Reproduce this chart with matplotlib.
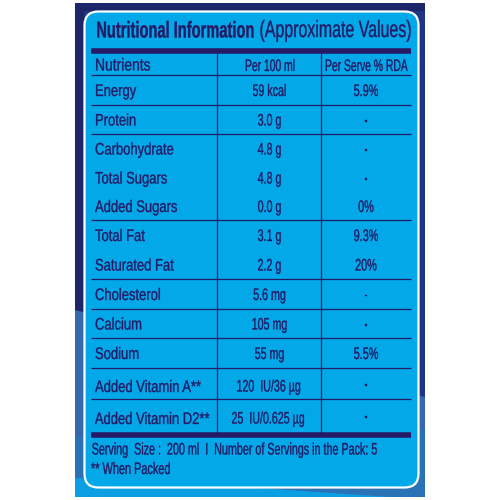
from matplotlib import pyplot as plt
from matplotlib.patches import FancyBboxPatch, Polygon, Rectangle
from matplotlib.patheffects import AbstractPathEffect
from matplotlib.text import Text
from matplotlib.transforms import Affine2D, Bbox

nutrients = ["Energy", "Protein", "Carbohydrate", "Total Sugars", "Added Sugars", "Total Fat",
             "Saturated Fat", "Cholesterol", "Calcium", "Sodium", "Added Vitamin A**", "Added Vitamin D2**"]
per_100ml = ["59 kcal", "3.0 g", "4.8 g", "4.8 g", "0.0 g", "3.1 g", "2.2 g", "5.6 mg", "105 mg", "55 mg",
             "120  IU/36 µg", "25  IU/0.625 µg"]
per_serve = ["5.9%", "-", "-", "-", "0%", "9.3%", "20%", "-", "-", "5.5%", "-", "-"]
headers = ["Nutrients", "Per 100 ml", "Per Serve % RDA"]
title_bold = "Nutritional Information"
title_plain = "(Approximate Values)"
footer = ["Serving  Size :  200 ml  I  Number of Servings in the Pack: 5", "** When Packed"]

navy = "#241a66"
panel_blue = "#03a8e8"
plt.rcParams['font.family'] = ['Liberation Sans', 'DejaVu Sans']


# the packet uses a condensed face, so squeeze the glyphs sideways around the anchor
class Squeeze(AbstractPathEffect):
    def __init__(self, x0, sx):
        super().__init__()
        self.x0, self.sx = x0, sx

    def draw_path(self, renderer, gc, tpath, affine, rgbFace=None):
        squeeze = Affine2D().translate(-self.x0, 0).scale(self.sx, 1).translate(self.x0, 0)
        gc0 = renderer.new_gc()
        gc0.copy_properties(gc)
        gc0.set_linewidth(0.25)
        gc0.set_foreground(navy)
        renderer.draw_path(gc0, tpath, affine + squeeze, rgbFace)
        gc0.restore()


class NarrowText(Text):
    def __init__(self, x, y, s, sx, **kw):
        super().__init__(x, y, s, **kw)
        self.sx = sx
        self.set_path_effects([Squeeze(x, sx)])

    def get_window_extent(self, renderer=None, dpi=None):
        bb = super().get_window_extent(renderer, dpi)
        x0 = self.get_transform().transform(self.get_position())[0]
        return Bbox([[x0 + (bb.x0 - x0) * self.sx, bb.y0], [x0 + (bb.x1 - x0) * self.sx, bb.y1]])


def put(x, y, s, sx, size=12, ha="left", weight="normal"):
    ax.add_artist(NarrowText(x, y, s, sx, fontsize=size, ha=ha, va="center", color=navy,
                             fontweight=weight, zorder=6))


fig = plt.figure(figsize=(5, 5), dpi=100)
ax = fig.add_axes([0, 0, 1, 1])
ax.set_xlim(0, 500)
ax.set_ylim(500, 0)
ax.axis("off")

# packet behind the panel
ax.add_patch(Rectangle((75, 3), 350, 494, color="#1f3583", lw=0, zorder=1))
ax.add_patch(Rectangle((75, 3), 350, 8, color="#1e2468", lw=0, zorder=1))
ax.add_patch(Rectangle((75, 3), 9, 310, color="#1e2468", lw=0, zorder=1))
ax.add_patch(Polygon([(75, 310), (425, 397), (425, 497), (75, 497)], color="#3568ad", lw=0, zorder=2))
ax.add_patch(Polygon([(75, 437), (425, 430), (425, 497), (75, 497)], color="#2a72b6", lw=0, zorder=2))
ax.add_patch(Polygon([(75, 478), (200, 484), (390, 497), (75, 497)], color="#0a9fe2", lw=0, zorder=3))

ax.add_patch(FancyBboxPatch((96, 23), 311, 453, boxstyle="round,pad=11.5,rounding_size=14",
                            fc=panel_blue, ec="white", lw=1.6, zorder=4))

put(253.5, 31, title_bold, 0.64, size=16.5, ha="right", weight="bold")
put(259.5, 31, title_plain, 0.675, size=17)

# row boundaries of the table, in pixels
row_edges = [53, 75, 105, 134, 163, 192, 220, 250, 279, 309, 338, 368, 399, 432]
no_line = {163, 192, 250}
x_left, x_c1, x_c2, x_right = 91, 217, 321, 411

for y in row_edges[1:-1]:
    if y not in no_line:
        ax.plot([x_left, x_right], [y, y], color=navy, lw=0.9, solid_capstyle="butt", zorder=5)
for y in (51, 435):
    ax.plot([x_left, x_right], [y, y], color=navy, lw=4, solid_capstyle="butt", zorder=5)
for x in (x_c1, x_c2):
    ax.plot([x, x], [row_edges[0], row_edges[-1]], color=navy, lw=0.9, zorder=5)

col2, col3 = 269.5, 366
put(95, 66, headers[0], 0.8, size=12.5)
put(295, 66.5, headers[1], 0.62, ha="right")
put(325, 66.5, headers[2], 0.62)

for i, name in enumerate(nutrients):
    y = (row_edges[i + 1] + row_edges[i + 2]) / 2 + 1.5
    if name.endswith("A**"):
        put(201.5, y + 2.5, name, 0.78, ha="right")
        put(236.5, y + 2, per_100ml[i], 0.64)
    elif name.endswith("D2**"):
        put(210, y + 2.5, name, 0.78, ha="right")
        put(231.5, y + 2, per_100ml[i], 0.64)
    else:
        put(95, y, name, 0.78)
        put(col2, y, per_100ml[i], 0.64, ha="center")
    put(col3, y, per_serve[i], 0.65, ha="center")

put(234.5, 450, footer[0], 0.645, ha="center")
put(91, 469.5, footer[1], 0.655)

fig.savefig("out.png", dpi=100, facecolor="white")
